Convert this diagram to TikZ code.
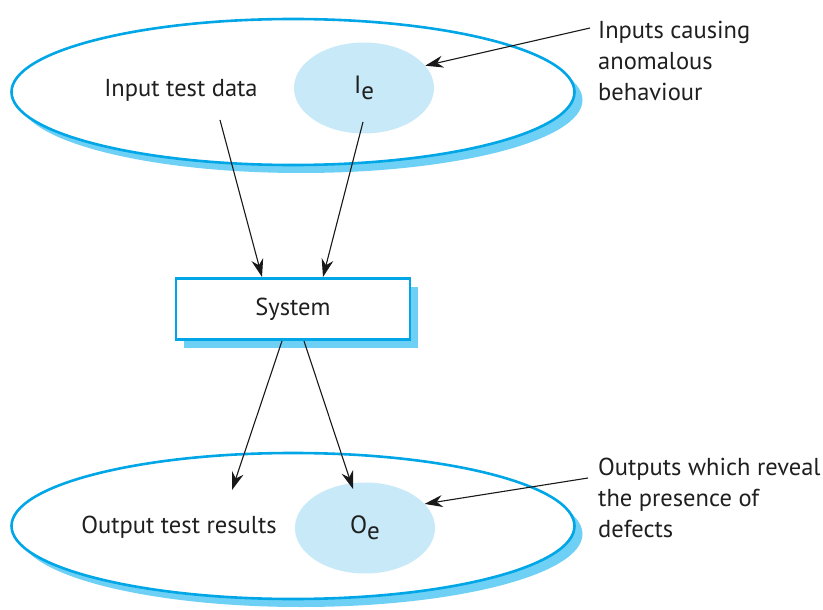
\documentclass[tikz,border=0pt]{standalone}
\usepackage{fontspec}
\setmainfont{PT Sans}
\usetikzlibrary{arrows.meta}
\definecolor{rim}{HTML}{00A6E6}
\definecolor{shade}{HTML}{6FD0F5}
\definecolor{blob}{HTML}{C7E9F8}
\tikzset{
  x=1pt, y=-1pt,
  lbl/.style={font=\fontsize{24.5}{31}\selectfont, text=black!88, inner sep=0pt},
  note/.style={lbl, align=left, anchor=north west},
  conn/.style={draw=black!90, line width=1.1pt, -{Stealth[length=18pt,width=12pt]}},
  ring/.style={ellipse, draw=rim, line width=2.6pt, fill=white, minimum width=563pt, minimum height=146pt, inner sep=0pt},
  ringshadow/.style={ellipse, fill=shade, minimum width=563pt, minimum height=146pt, inner sep=0pt},
  blobnode/.style={ellipse, fill=blob, minimum width=140pt, minimum height=91pt, inner sep=0pt, text=black!88, font=\fontsize{25}{28}\selectfont},
  sysbox/.style={draw=rim, line width=2.6pt, fill=white, minimum width=234pt, minimum height=61pt, inner sep=0pt, text=black!88, font=\fontsize{24.5}{28}\selectfont},
  sysshadow/.style={fill=shade, minimum width=234pt, minimum height=61pt, inner sep=0pt},
}
\usetikzlibrary{shapes.geometric}
\begin{document}
\begin{tikzpicture}
\useasboundingbox (0,0) rectangle (823,610);
% top ellipse
\node[ringshadow] (tops) at (301,100) {};
\node[ring] (top) at (293,92) {};
\node[blobnode] (ie) at (364,88) {I\raisebox{-0.45ex}{e}};
\node[lbl] (itd) at (181,90) {Input test data};
\node[note] (inote) at (598,21) {Inputs causing\\anomalous\\behaviour};
% system
\node[sysshadow] (syss) at (301,317) {};
\node[sysbox] (sys) at (293,309) {System};
% bottom ellipse
\node[ringshadow] (bots) at (301,534) {};
\node[ring] (bot) at (293,526) {};
\node[blobnode] (oe) at (365,528) {O\raisebox{-0.45ex}{e}};
\node[lbl] (otr) at (179,527) {Output test results};
\node[note] (onote) at (598,458) {Outputs which reveal\\the presence of\\defects};
% connectors
\coordinate (a1) at (220,120);
\coordinate (a2) at (363,122);
\coordinate (b1) at (282,341);
\coordinate (b2) at (304,341);
\coordinate (n1) at (590,28);
\coordinate (n2) at (588,478);
\draw[conn] (a1) -- (262,277);
\draw[conn] (a2) -- (323,277);
\draw[conn] (b1) -- (232,490);
\draw[conn] (b2) -- (353,489);
\draw[conn] (n1) -- (ie.20);
\draw[conn] (n2) -- (oe.22);
\end{tikzpicture}
\end{document}
